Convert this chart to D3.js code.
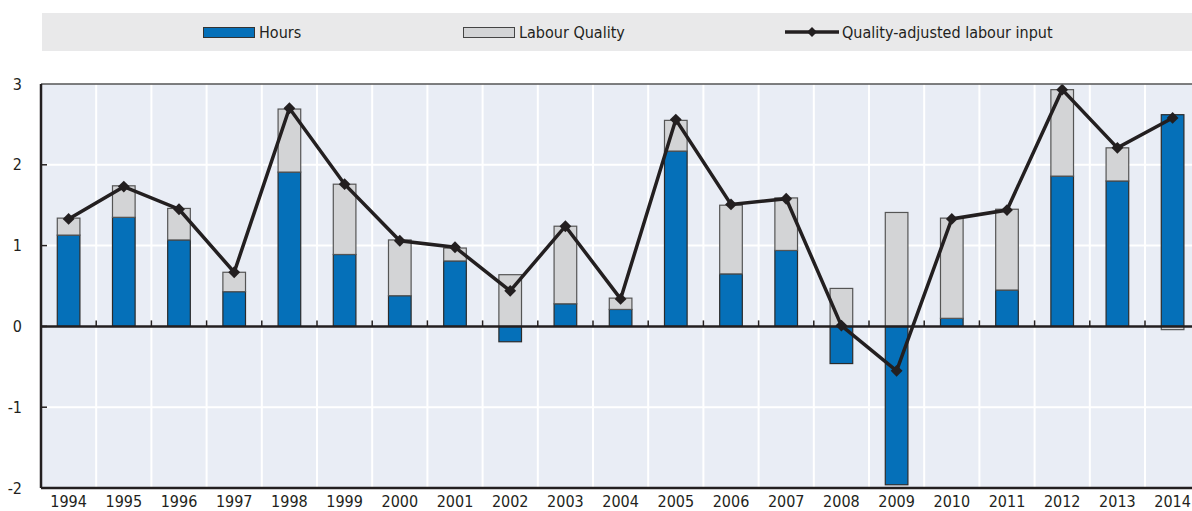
<!DOCTYPE html>
<head>
<meta charset="utf-8">
<script type="text/javascript" src="https://cdn.jsdelivr.net/npm/d3@7"></script>
</head>
<style type="text/css">
body{
	margin: 0;
	background: #fff;
}
text{
	font-family: "Liberation Sans Narrow", "Arial Narrow", "DejaVu Sans Condensed", sans-serif;
	font-size: 16px;
	fill: #231f20;
}
</style>
<body>
<div class="viz"></div>
</body>
<script type="text/javascript">
var years=["1994","1995","1996","1997","1998","1999","2000","2001","2002","2003","2004","2005","2006","2007","2008","2009","2010","2011","2012","2013","2014"];
var hours=[1.13,1.35,1.07,0.43,1.91,0.89,0.38,0.81,-0.19,0.28,0.21,2.17,0.65,0.94,-0.46,-1.96,0.10,0.45,1.86,1.80,2.62];
var quality=[0.21,0.39,0.39,0.24,0.78,0.87,0.69,0.16,0.64,0.96,0.14,0.38,0.85,0.65,0.47,1.41,1.24,1.00,1.07,0.41,-0.04];
var adjusted=[1.33,1.73,1.45,0.67,2.70,1.76,1.06,0.98,0.44,1.24,0.34,2.56,1.51,1.58,0.01,-0.55,1.33,1.44,2.93,2.21,2.58];
var yticks=[-2,-1,0,1,2,3];

var W=1192,H=511;
var svg=d3.select(".viz").append("svg").attr("width",W).attr("height",H);

// legend
var leg=svg.append("g");
leg.append("rect").attr("x",42).attr("y",13).attr("width",W-42).attr("height",38).style("fill","#e9e9ea");
leg.append("rect").attr("x",203.5).attr("y",27.5).attr("width",51).attr("height",10).style("fill","#0570b9").style("stroke","#333").style("stroke-width",1);
leg.append("text").attr("x",259).attr("y",38).text("Hours");
leg.append("rect").attr("x",463.5).attr("y",27.5).attr("width",51).attr("height",10).style("fill","#d3d4d6").style("stroke","#444").style("stroke-width",1);
leg.append("text").attr("x",519).attr("y",38).text("Labour Quality");
leg.append("line").attr("x1",785).attr("x2",839).attr("y1",32).attr("y2",32).style("stroke","#231f20").style("stroke-width",3.5);
leg.append("path").attr("d",d3.symbol(d3.symbolSquare,50)()).attr("transform","translate(812,32) rotate(45)").style("fill","#231f20");
leg.append("text").attr("x",842).attr("y",38).text("Quality-adjusted labour input");

var pLeft=41,pTop=84,pBottom=488;
var xscale=d3.scaleBand().domain(years).range([pLeft,pLeft+21*55.2]).paddingInner(0.59).paddingOuter(0.295);
var yscale=d3.scaleLinear().domain([-2,3]).range([pBottom,pTop]);
var step=xscale.step();
var bw=xscale.bandwidth();
function gapX(i){return xscale(years[i])-(step-bw)/2;}

var chart=svg.append("g");
chart.append("rect").attr("x",pLeft).attr("y",pTop).attr("width",W-pLeft).attr("height",pBottom-pTop).style("fill","#e9edf5");

// grid
for(var i=1;i<=21;i++){
	var gx=i<21?gapX(i):xscale(years[20])+bw+(step-bw)/2;
	chart.append("line").attr("x1",gx).attr("x2",gx).attr("y1",pTop).attr("y2",pBottom).style("stroke","#fff").style("stroke-width",2);
}
[-1,1,2].forEach(function(v){
	chart.append("line").attr("x1",pLeft).attr("x2",W).attr("y1",yscale(v)).attr("y2",yscale(v)).style("stroke","#fff").style("stroke-width",2);
});

// bars
years.forEach(function(y,i){
	var pos=0,neg=0;
	[[hours[i],"#0570b9","#2b2b2b"],[quality[i],"#d3d4d6","#555"]].forEach(function(s){
		var v=s[0],y0,y1;
		if(v>=0){y0=pos;y1=pos+v;pos=y1;}
		else {y0=neg;y1=neg+v;neg=y1;}
		chart.append("rect").attr("x",xscale(y)).attr("width",bw)
			.attr("y",yscale(Math.max(y0,y1))).attr("height",Math.abs(yscale(y0)-yscale(y1)))
			.style("fill",s[1]).style("stroke",s[2]).style("stroke-width",1.2);
	});
});

// zero line and ticks
chart.append("line").attr("x1",pLeft).attr("x2",W).attr("y1",yscale(0)).attr("y2",yscale(0)).style("stroke","#231f20").style("stroke-width",2.5);
for(var i=1;i<21;i++){
	chart.append("line").attr("x1",gapX(i)).attr("x2",gapX(i)).attr("y1",yscale(0)).attr("y2",yscale(0)-6).style("stroke","#231f20").style("stroke-width",1.5);
}

// line
var line=d3.line().x(function(d,i){return xscale(years[i])+bw/2;}).y(function(d){return yscale(d);});
chart.append("path").datum(adjusted).attr("d",line).style("fill","none").style("stroke","#231f20").style("stroke-width",3.5).style("stroke-linejoin","miter");
chart.selectAll(".mk").data(adjusted).enter().append("path").attr("class","mk")
	.attr("d",d3.symbol(d3.symbolSquare,70)())
	.attr("transform",function(d,i){return "translate("+(xscale(years[i])+bw/2)+","+yscale(d)+") rotate(45)";})
	.style("fill","#231f20");

// frame
chart.append("line").attr("x1",pLeft).attr("x2",W).attr("y1",pTop).attr("y2",pTop).style("stroke","#555").style("stroke-width",1.5);
chart.append("line").attr("x1",pLeft).attr("x2",W).attr("y1",pBottom).attr("y2",pBottom).style("stroke","#231f20").style("stroke-width",2.5);
chart.append("line").attr("x1",pLeft).attr("x2",pLeft).attr("y1",pTop).attr("y2",pBottom).style("stroke","#231f20").style("stroke-width",2.5);

// y axis
var yaxis=d3.axisLeft(yscale).tickValues(yticks).tickSize(0).tickPadding(19).tickFormat(function(d){return String(d);});
var ya=svg.append("g").attr("transform","translate("+pLeft+",0)").call(yaxis);
ya.select(".domain").remove();
ya.attr("font-size",null).attr("font-family",null);
yticks.forEach(function(v){
	if(v==3||v==-2) return;
	chart.append("line").attr("x1",pLeft).attr("x2",pLeft+6).attr("y1",yscale(v)).attr("y2",yscale(v)).style("stroke","#231f20").style("stroke-width",1.5);
});

// x axis
var xaxis=d3.axisBottom(xscale).tickSize(0).tickPadding(8);
var xa=svg.append("g").attr("transform","translate(0,"+pBottom+")").call(xaxis);
xa.select(".domain").remove();
xa.attr("font-size",null).attr("font-family",null);
</script>
